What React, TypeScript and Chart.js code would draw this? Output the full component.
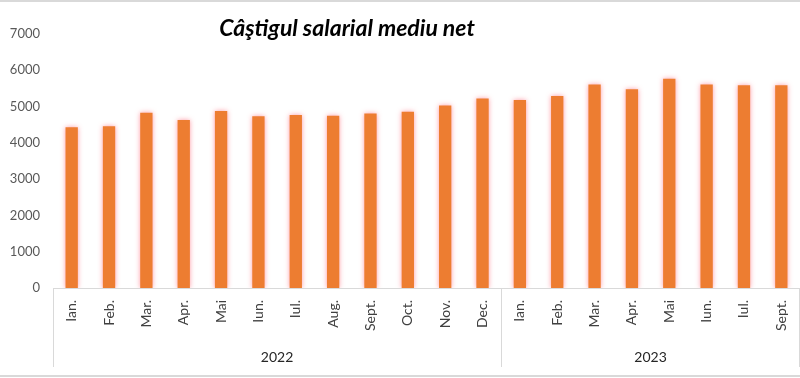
import React, { useEffect, useRef } from 'react';
import { Chart, registerables } from 'chart.js';

Chart.register(...registerables);

const title = 'Câştigul salarial mediu net';
const months = [
  'Ian.', 'Feb.', 'Mar.', 'Apr.', 'Mai', 'Iun.', 'Iul.', 'Aug.', 'Sept.', 'Oct.', 'Nov.', 'Dec.',
  'Ian.', 'Feb.', 'Mar.', 'Apr.', 'Mai', 'Iun.', 'Iul.', 'Sept.',
];
const years = ['2022', '2023'];
const yearSpans = [12, 8];
const values2022 = [4430, 4460, 4830, 4630, 4875, 4730, 4765, 4745, 4810, 4855, 5030, 5225];
const values2023 = [5180, 5290, 5610, 5475, 5765, 5610, 5590, 5590];
const yMin = 0;
const yMax = 7000;
const yStep = 1000;

const FONT = 'Lato, "Open Sans", sans-serif';

const decor = {
  id: 'decor',
  beforeDatasetsDraw(chart: any) {
    const ctx = chart.ctx;
    ctx.save();
    ctx.shadowColor = 'rgba(255, 70, 90, 0.55)';
    ctx.shadowBlur = 5;
  },
  afterDatasetsDraw(chart: any) {
    chart.ctx.restore();
  },
  afterDraw(chart: any) {
    const ctx = chart.ctx;
    const x = chart.scales.x;
    const half = (x.getPixelForTick(1) - x.getPixelForTick(0)) / 2;
    const lineTop = x.top;
    const lineBottom = 367;
    ctx.save();
    ctx.strokeStyle = '#d9d9d9';
    ctx.lineWidth = 1;
    const vline = (px: number) => {
      const p = Math.round(px) + 0.5;
      ctx.beginPath();
      ctx.moveTo(p, lineTop);
      ctx.lineTo(p, lineBottom);
      ctx.stroke();
    };
    vline(x.getPixelForTick(0) - half);
    let idx = 0;
    ctx.fillStyle = '#262626';
    ctx.font = `14px ${FONT}`;
    ctx.textAlign = 'center';
    ctx.textBaseline = 'middle';
    years.forEach((yr, i) => {
      const s = idx;
      const e = idx + yearSpans[i] - 1;
      const l = x.getPixelForTick(s) - half;
      const r = x.getPixelForTick(e) + half;
      vline(Math.min(r, chart.width - 1));
      ctx.fillText(yr, (l + r) / 2, 357);
      idx += yearSpans[i];
    });
    // title
    ctx.font = `italic bold 23px ${FONT}`;
    ctx.fillStyle = '#000000';
    ctx.textAlign = 'center';
    ctx.textBaseline = 'middle';
    ctx.fillText(title, 347, 29);
    // frame lines
    ctx.strokeStyle = '#d9d9d9';
    ctx.lineWidth = 2;
    ctx.beginPath();
    ctx.moveTo(0, 1);
    ctx.lineTo(chart.width, 1);
    ctx.moveTo(0, 376);
    ctx.lineTo(chart.width, 376);
    ctx.stroke();
    ctx.restore();
  },
};

export default function App() {
  const ref = useRef<HTMLCanvasElement | null>(null);
  useEffect(() => {
    if (!ref.current) return;
    const chart = new Chart(ref.current, {
      type: 'bar',
      data: {
        labels: months,
        datasets: [
          {
            data: [...values2022, ...values2023],
            backgroundColor: '#ED7D31',
            borderWidth: 0,
            barPercentage: 0.66,
            categoryPercentage: 0.5,
          },
        ],
      },
      options: {
        animation: false,
        responsive: true,
        maintainAspectRatio: false,
        layout: { padding: { top: 34, left: 0, right: 0, bottom: 0 } },
        plugins: {
          legend: { display: false },
          tooltip: { enabled: false },
          title: { display: false },
        },
        scales: {
          x: {
            grid: { display: false, drawTicks: false },
            border: { display: true, color: '#d9d9d9', width: 1 },
            ticks: {
              autoSkip: false,
              maxRotation: 90,
              minRotation: 90,
              padding: 12,
              color: '#404040',
              font: { family: FONT, size: 14 },
            },
            afterFit: (s: any) => {
              s.height = 90;
              s.paddingLeft = 0;
              s.paddingRight = 0;
            },
          },
          y: {
            min: yMin,
            max: yMax,
            grid: { display: false, drawTicks: false },
            border: { display: false },
            ticks: {
              stepSize: yStep,
              padding: 13,
              color: '#595959',
              font: { family: FONT, size: 13 },
              callback: (v: any) => String(v),
            },
            afterFit: (s: any) => {
              s.width = 53;
            },
          },
        },
      },
      plugins: [decor],
    });
    return () => chart.destroy();
  }, []);
  return (
    <div style={{ position: 'fixed', left: 0, top: 0, width: 800, height: 378, background: '#fff' }}>
      <canvas ref={ref} />
    </div>
  );
}
